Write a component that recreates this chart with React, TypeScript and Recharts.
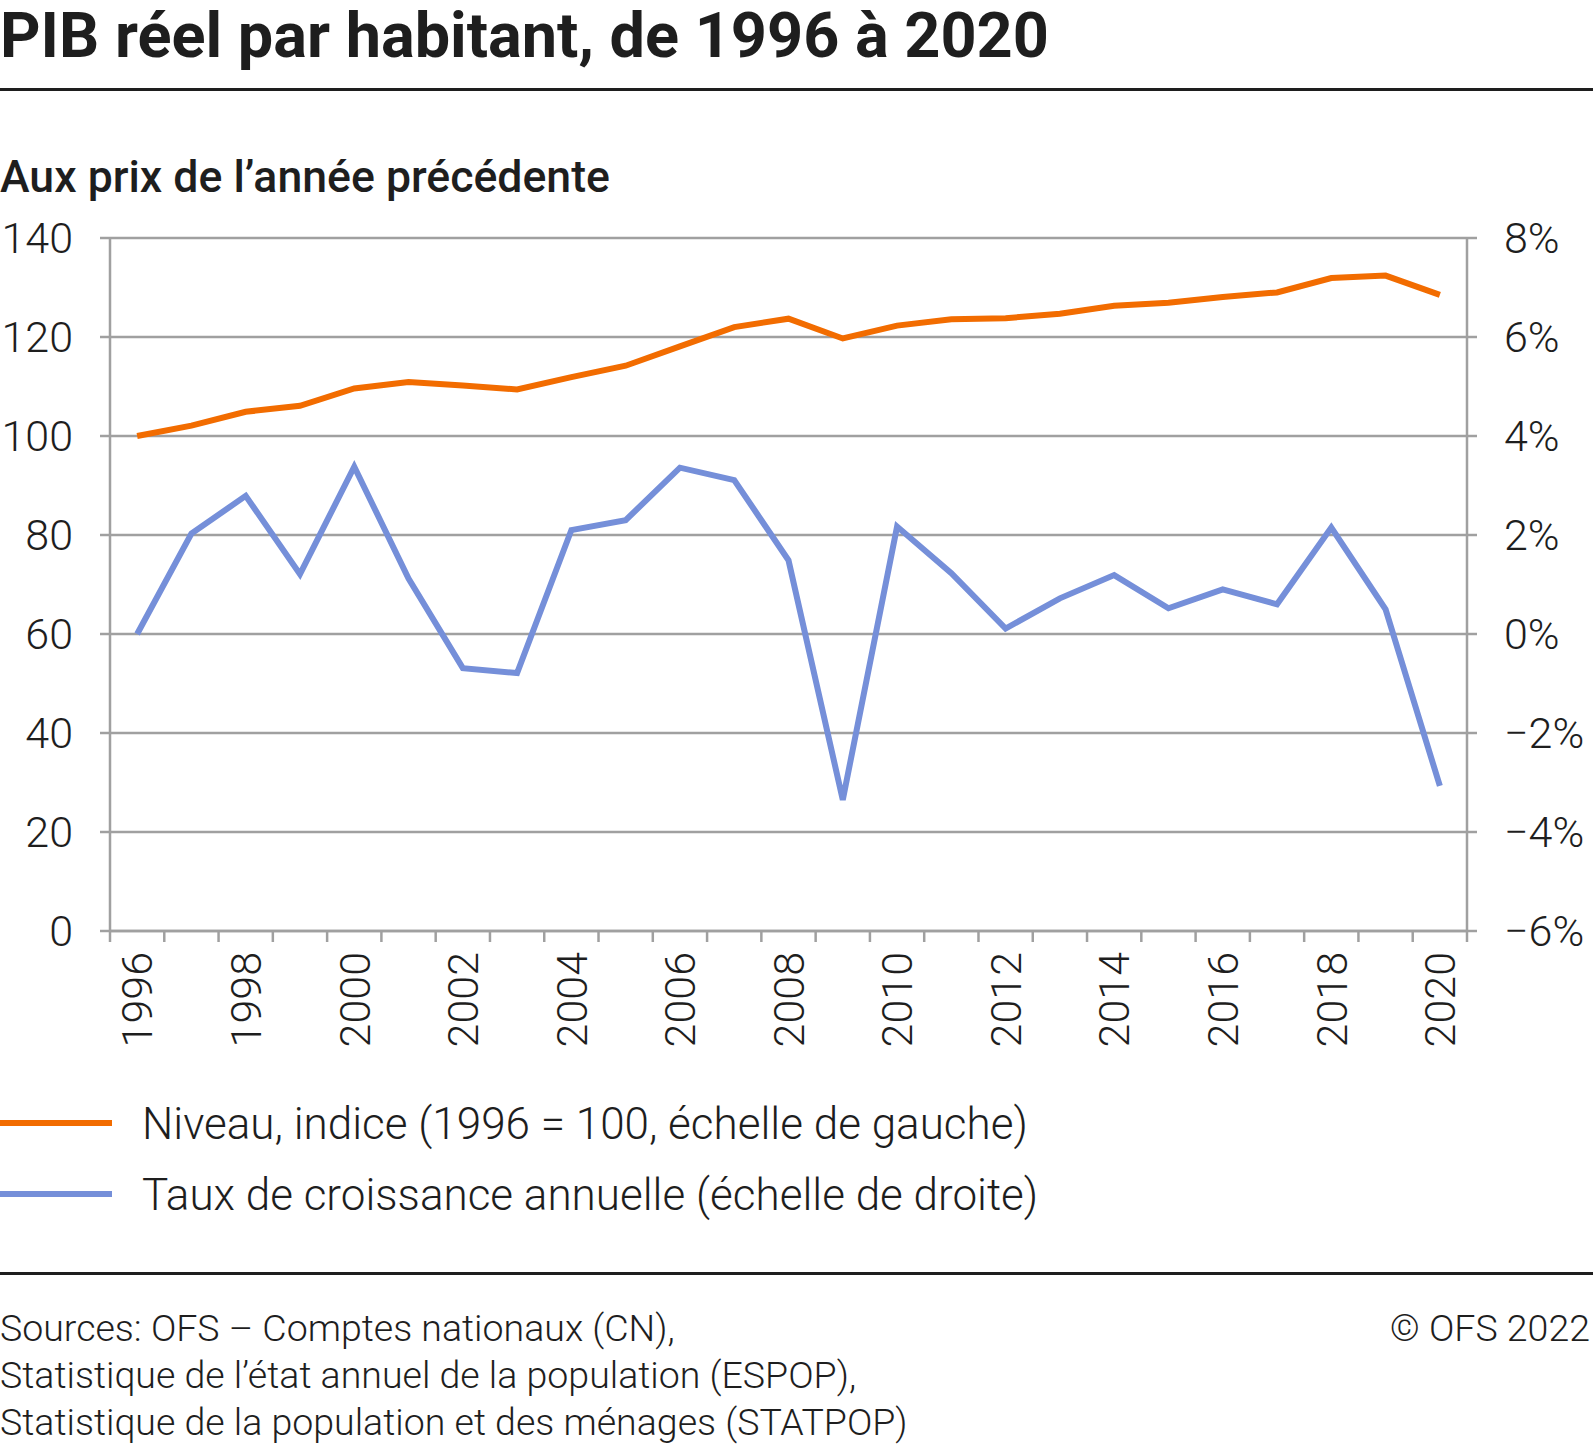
import React from 'react';
import { ComposedChart, Line, XAxis, YAxis, CartesianGrid } from 'recharts';

const years = ['1996','1997','1998','1999','2000','2001','2002','2003','2004','2005','2006','2007','2008','2009','2010','2011','2012','2013','2014','2015','2016','2017','2018','2019','2020'];
const niveau = [100, 102.1, 104.9, 106.1, 109.6, 110.9, 110.2, 109.4, 111.9, 114.2, 118.1, 122.0, 123.7, 119.7, 122.3, 123.6, 123.8, 124.7, 126.3, 126.9, 128.1, 129.0, 131.9, 132.4, 128.5];
const croissance = [0.0, 2.03, 2.79, 1.21, 3.38, 1.12, -0.69, -0.79, 2.1, 2.3, 3.36, 3.11, 1.49, -3.35, 2.17, 1.23, 0.11, 0.72, 1.19, 0.52, 0.9, 0.6, 2.15, 0.5, -3.07];
const leftTicks = [0, 20, 40, 60, 80, 100, 120, 140];
const rightTicks = [-6, -4, -2, 0, 2, 4, 6, 8];

const ORANGE = '#F26C00';
const BLUE = '#758FD9';
const GRID = '#A0A0A0';
const TEXT = '#1E1E1E';
const FONT = 'Roboto, sans-serif';

const data = years.map((y, i) => ({ year: y, niveau: niveau[i], croissance: croissance[i] }));

const CHART_W = 1593;
const LEFT_W = 110;
const RIGHT_W = 126;
const BAND = (CHART_W - LEFT_W - RIGHT_W) / years.length;

const XTick = (props: any) => {
  const { x, y, payload, index } = props;
  const half = BAND / 2;
  const showLabel = Number(payload.value) % 2 === 0;
  const ly = y + 21;
  return (
    <g>
      <line x1={x - half} x2={x - half} y1={y} y2={y + 11} stroke={GRID} strokeWidth={2.5} />
      {index === years.length - 1 && (
        <line x1={x + half} x2={x + half} y1={y} y2={y + 11} stroke={GRID} strokeWidth={2.5} />
      )}
      {showLabel && (
        <text
          x={x}
          y={ly}
          transform={`rotate(-90 ${x} ${ly})`}
          textAnchor="end"
          dy="0.355em"
          fontSize={43}
          fontWeight={300}
          fontFamily={FONT}
          fill={TEXT}
        >
          {payload.value}
        </text>
      )}
    </g>
  );
};

const fmtRight = (v: number) => (v < 0 ? '\u2212' + Math.abs(v) + '%' : v + '%');

export default function App() {
  const tickStyle = { fontSize: 43, fontWeight: 300, fontFamily: FONT, fill: TEXT };
  return (
    <div style={{ position: 'absolute', left: 0, top: 0, width: 1593, height: 1446, background: '#fff', fontFamily: FONT }}>
      <div style={{ position: 'absolute', left: 0, top: 0 }}>
        <ComposedChart width={CHART_W} height={1100} data={data} margin={{ top: 238, right: 0, bottom: 0, left: 0 }}>
          <CartesianGrid vertical={false} stroke={GRID} strokeWidth={2.5} yAxisId="left" />
          <XAxis
            dataKey="year"
            scale="band"
            interval={0}
            tickSize={0}
            tickMargin={0}
            tickLine={false}
            tick={<XTick />}
            height={169}
            axisLine={{ stroke: GRID, strokeWidth: 2.5 }}
          />
          <YAxis
            yAxisId="left"
            domain={[0, 140]}
            ticks={leftTicks}
            interval={0}
            width={LEFT_W}
            tickSize={10}
            tickMargin={27}
            tick={tickStyle}
            axisLine={{ stroke: GRID, strokeWidth: 2.5 }}
            tickLine={{ stroke: GRID, strokeWidth: 2.5 }}
          />
          <YAxis
            yAxisId="right"
            orientation="right"
            domain={[-6, 8]}
            ticks={rightTicks}
            interval={0}
            width={RIGHT_W}
            tickSize={10}
            tickMargin={27}
            tick={tickStyle}
            tickFormatter={fmtRight}
            axisLine={{ stroke: GRID, strokeWidth: 2.5 }}
            tickLine={{ stroke: GRID, strokeWidth: 2.5 }}
          />
          <Line yAxisId="right" type="linear" dataKey="croissance" stroke={BLUE} strokeWidth={6} dot={false} activeDot={false} isAnimationActive={false} />
          <Line yAxisId="left" type="linear" dataKey="niveau" stroke={ORANGE} strokeWidth={6} dot={false} activeDot={false} isAnimationActive={false} />
        </ComposedChart>
      </div>
      <svg width={1593} height={1446} style={{ position: 'absolute', left: 0, top: 0, pointerEvents: 'none' }}>
        <text x={0} y={57} fontSize={63} fontWeight={700} fontFamily={FONT} fill={TEXT}>PIB réel par habitant, de 1996 à 2020</text>
        <rect x={0} y={88} width={1593} height={3} fill={TEXT} />
        <text x={0} y={192} fontSize={44.6} fontWeight={500} fontFamily={FONT} fill={TEXT}>Aux prix de l’année précédente</text>
        <rect x={0} y={1120} width={112} height={6} fill={ORANGE} />
        <text x={142} y={1123} dy="0.355em" fontSize={44} fontWeight={300} fontFamily={FONT} fill={TEXT}>Niveau, indice (1996 = 100, échelle de gauche)</text>
        <rect x={0} y={1191} width={112} height={6} fill={BLUE} />
        <text x={142} y={1194} dy="0.355em" fontSize={44} fontWeight={300} fontFamily={FONT} fill={TEXT}>Taux de croissance annuelle (échelle de droite)</text>
        <rect x={0} y={1272} width={1593} height={3} fill={TEXT} />
        <text x={0} y={1341} fontSize={37.5} fontWeight={300} fontFamily={FONT} fill={TEXT}>Sources: OFS – Comptes nationaux (CN),</text>
        <text x={0} y={1388} fontSize={37.5} fontWeight={300} fontFamily={FONT} fill={TEXT}>Statistique de l’état annuel de la population (ESPOP),</text>
        <text x={0} y={1435} fontSize={37.5} fontWeight={300} fontFamily={FONT} fill={TEXT}>Statistique de la population et des ménages (STATPOP)</text>
        <text x={1590} y={1341} textAnchor="end" fontSize={37.5} fontWeight={300} fontFamily={FONT} fill={TEXT}>© OFS 2022</text>
      </svg>
    </div>
  );
}
